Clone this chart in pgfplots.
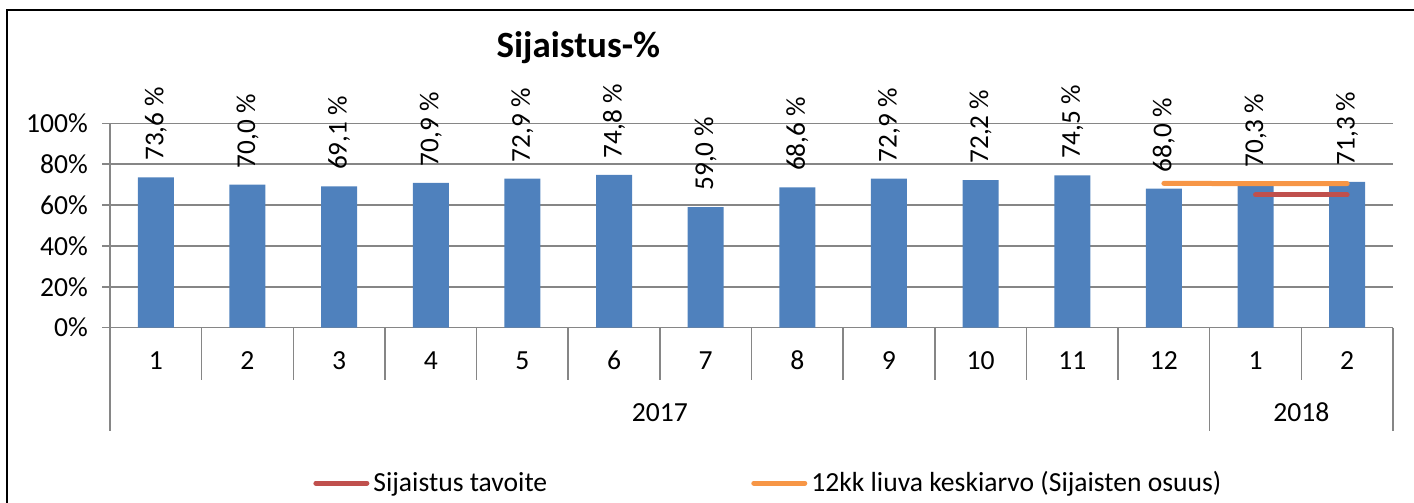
\documentclass[border=0pt]{standalone}
\usepackage{pgfplots}
\pgfplotsset{compat=1.18}
\usepackage{fontspec}
\setmainfont{Carlito}
\definecolor{barblue}{HTML}{4F81BD}
\definecolor{tgtred}{HTML}{C0504D}
\definecolor{avgorange}{HTML}{F79646}
\definecolor{axgray}{HTML}{868686}
\begin{document}
\begin{tikzpicture}
\useasboundingbox (0,0) rectangle (707pt,251.5pt);
\draw[black, line width=1pt] (3.7pt,0) -- (3.7pt,246.5pt) -- (707pt,246.5pt);
\begin{axis}[
  at={(55pt,87.65pt)}, anchor=south west,
  scale only axis, width=641.5pt, height=102.2pt,
  xmin=-0.5, xmax=13.5, ymin=0, ymax=100,
  clip=false,
  axis x line*=bottom, axis y line*=left,
  axis line style={axgray, line width=0.75pt, -},
  ymajorgrids, grid style={axgray, line width=0.75pt},
  ytick={0,20,40,60,80,100},
  yticklabels={0\%,20\%,40\%,60\%,80\%,100\%},
  tick align=outside, major tick length=4pt,
  ytick style={axgray, line width=0.75pt},
  yticklabel style={xshift=-3.5pt},
  xtick={0,1,2,3,4,5,6,7,8,9,10,11,12,13},
  xticklabels={1,2,3,4,5,6,7,8,9,10,11,12,1,2},
  xtick style={draw=none},
  xticklabel style={anchor=base, yshift=-17pt},
  tick label style={font=\fontsize{13.8}{16}\selectfont},
  /pgf/number format/assume math mode=true,
  title={\bfseries Sijaistus-\%},
  title style={at={(0.365,1)}, anchor=center, yshift=31.7pt, font=\fontsize{18.5}{22}\selectfont},
  legend columns=2,
  legend style={draw=none, fill=none, at={(rel axis cs:0,0)}, anchor=west,
    xshift=101.5pt, yshift=-77.7pt, font=\fontsize{13.8}{16}\selectfont,
    /tikz/every even column/.append style={column sep=100pt},
    inner sep=0pt},
  legend image code/.code={\draw[#1, line width=2.5pt, line cap=round] (0pt,0pt) -- (25.5pt,0pt);},
]
\addplot[ybar, bar width=18pt, bar shift=0pt, fill=barblue, draw=none,
  nodes near coords={\pgfmathprintnumber[fixed, fixed zerofill, precision=1, use comma]{\pgfplotspointmeta}~\%},
  every node near coord/.append style={rotate=90, anchor=west, inner sep=0pt, outer sep=8.3pt, font=\fontsize{13.6}{16}\selectfont, black},
  forget plot]
  coordinates {(0,73.6) (1,70.0) (2,69.1) (3,70.9) (4,72.9) (5,74.8) (6,59.0) (7,68.6) (8,72.9) (9,72.2) (10,74.5) (11,68.0) (12,70.3) (13,71.3)};
\addplot[tgtred, line width=2.5pt, line cap=round] coordinates {(12,65.0) (13,65.0)};
\addlegendentry{Sijaistus tavoite}
\addplot[avgorange, line width=2.5pt, line cap=round] coordinates {(11,70.6) (12,70.5) (13,70.5)};
\addlegendentry{12kk liuva keskiarvo (Sijaisten osuus)}
\pgfplotsinvokeforeach{0.5,1.5,2.5,3.5,4.5,5.5,6.5,7.5,8.5,9.5,10.5,12.5}{
  \draw[axgray, line width=0.75pt] (axis cs:#1,0) -- ++(0pt,-26pt);
}
\pgfplotsinvokeforeach{-0.5,11.5,13.5}{
  \draw[axgray, line width=0.75pt] (axis cs:#1,0) -- ++(0pt,-51.5pt);
}
\node[anchor=base, font=\fontsize{13.8}{16}\selectfont] at ([yshift=-47pt]axis cs:5.5,0) {2017};
\node[anchor=base, font=\fontsize{13.8}{16}\selectfont] at ([yshift=-47pt]axis cs:12.5,0) {2018};
\end{axis}
\end{tikzpicture}
\end{document}
